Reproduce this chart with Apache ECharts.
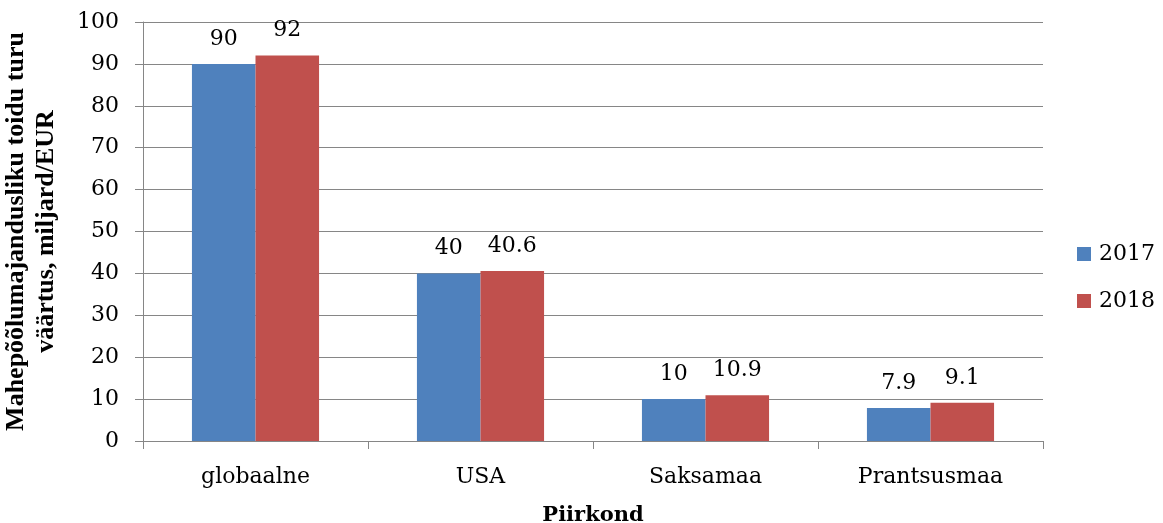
<!DOCTYPE html>
<html>
<head>
<meta charset="utf-8">
<script src="https://cdn.jsdelivr.net/npm/echarts@6/dist/echarts.min.js"></script>
<style>
  html, body { margin: 0; padding: 0; background: #fff; }
  #chart { width: 1163px; height: 523px; }
</style>
</head>
<body>
<div id="chart"></div>
<script>
// Organic food market value by region, billion EUR
const categories = ['globaalne', 'USA', 'Saksamaa', 'Prantsusmaa'];
const values2017 = [90, 40, 10, 7.9];
const values2018 = [92, 40.6, 10.9, 9.1];
const seriesNames = ['2017', '2018'];
const yTicks = { min: 0, max: 100, interval: 10 };

const serif = 'DejaVu Serif';
const gridGray = '#868686';

const labelStyle = {
  show: true,
  position: 'top',
  distance: 14,
  fontFamily: serif,
  fontSize: 22,
  color: '#000'
};

const chart = echarts.init(document.getElementById('chart'), null, { renderer: 'canvas' });
chart.setOption({
  animation: false,
  backgroundColor: '#fff',
  grid: { left: 143, right: 120, top: 22, bottom: 82, outerBoundsMode: 'none' },
  legend: {
    orient: 'vertical',
    right: 3,
    top: 238,
    itemWidth: 14,
    itemHeight: 14,
    itemGap: 25,
    icon: 'rect',
    textStyle: { fontFamily: serif, fontSize: 22, color: '#000', padding: [0, 0, 0, 3] },
    data: seriesNames
  },
  xAxis: {
    type: 'category',
    data: categories,
    name: 'Piirkond',
    nameLocation: 'middle',
    nameGap: 64,
    nameTextStyle: { fontFamily: serif, fontSize: 21, fontWeight: 'bold', color: '#000' },
    axisLine: { lineStyle: { color: gridGray, width: 1 } },
    axisTick: { show: true, length: 8, lineStyle: { color: gridGray } },
    axisLabel: { fontFamily: serif, fontSize: 22, color: '#000', margin: 25 }
  },
  yAxis: {
    type: 'value',
    min: yTicks.min,
    max: yTicks.max,
    interval: yTicks.interval,
    name: 'Mahepõõlumajandusliku toidu turu\nväärtus, miljard/EUR',
    nameLocation: 'middle',
    nameRotate: 90,
    nameGap: 82,
    nameTextStyle: {
      fontFamily: 'Liberation Serif',
      fontSize: 26,
      fontWeight: 'bold',
      color: '#000',
      lineHeight: 30
    },
    axisLine: { show: true, lineStyle: { color: gridGray, width: 1 } },
    axisTick: { show: true, length: 8, lineStyle: { color: gridGray } },
    axisLabel: { fontFamily: serif, fontSize: 22, color: '#000', margin: 24 },
    splitLine: { show: true, lineStyle: { color: gridGray, width: 1 } }
  },
  series: [
    {
      name: seriesNames[0],
      type: 'bar',
      data: values2017,
      barGap: '0%',
      barCategoryGap: '43.5%',
      itemStyle: { color: '#4F81BD' },
      label: labelStyle
    },
    {
      name: seriesNames[1],
      type: 'bar',
      data: values2018,
      barGap: '0%',
      barCategoryGap: '43.5%',
      itemStyle: { color: '#C0504D' },
      label: labelStyle
    }
  ]
});
</script>
</body>
</html>
